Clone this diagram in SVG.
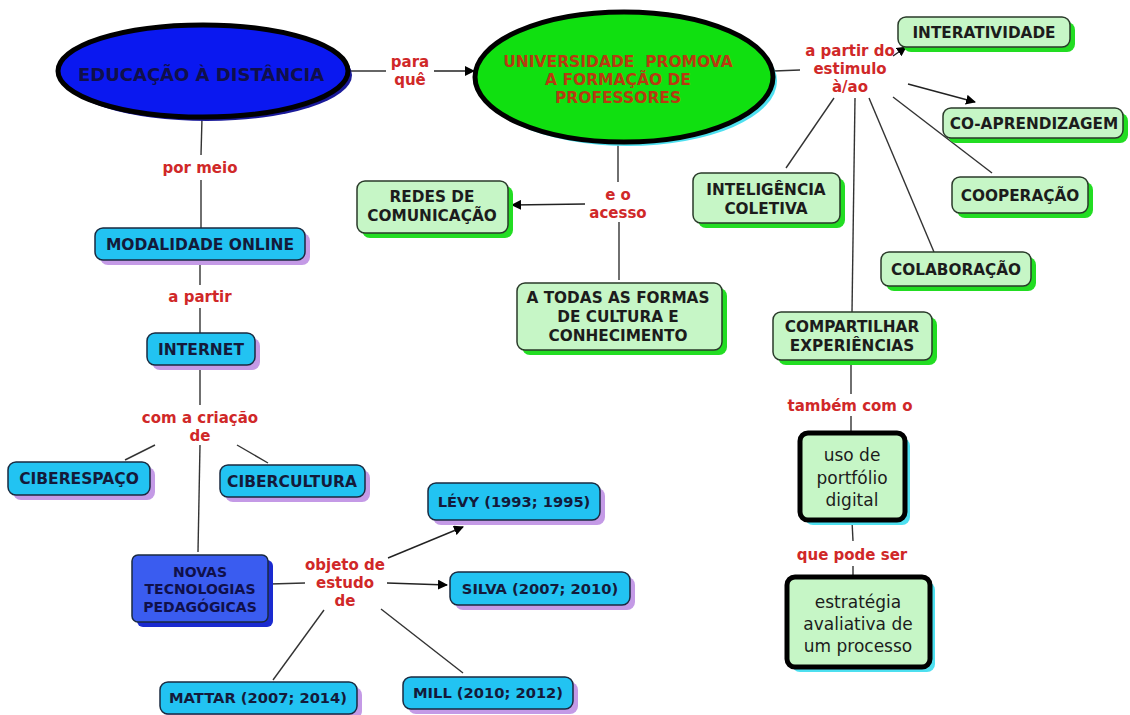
<svg xmlns="http://www.w3.org/2000/svg" width="1130" height="715" viewBox="0 0 1130 715">
  <style>
    text { font-family: "DejaVu Sans", Verdana, sans-serif; font-weight: bold; text-anchor: middle; }
    .lbl { fill: #d02828; font-size: 15px; }
    .bt { fill: #141a3a; font-size: 15.5px; }
    .ct { fill: #141a3a; font-size: 14.7px; }
    .gt { fill: #1c1c1c; font-size: 15.3px; }
    .nv { fill: #10104a; font-size: 14px; }
    .nt { fill: #1c1c1c; font-size: 17px; font-weight: normal; }
    .blue { fill: #22c3f2; stroke: #1a2a40; stroke-width: 1.5; }
    .bsh { fill: #c49ae6; }
    .green { fill: #c6f6c6; stroke: #2a3a2a; stroke-width: 1.5; }
    .gsh { fill: #22dd22; }
    .thick { fill: #c6f6c6; stroke: #000; stroke-width: 5; }
    .csh { fill: #4ee0f0; }
    .ln { stroke: #333; stroke-width: 1.4; fill: none; }
    .ar { stroke: #222; stroke-width: 1.4; fill: none; marker-end: url(#ah); }
    .ut { fill: #b83a10; font-size: 15.5px; white-space: pre; }
  </style>
  <defs>
    <marker id="ah" viewBox="0 0 10 10" refX="9" refY="5" markerWidth="10" markerHeight="10" markerUnits="userSpaceOnUse" orient="auto">
      <path d="M0,0 L10,5 L0,10 z" fill="#000"/>
    </marker>
  </defs>
  <rect width="1130" height="715" fill="#fff"/>

  <!-- connectors -->
  <g id="connectors">
    <line class="ln" x1="350" y1="71" x2="386" y2="71"/>
    <line class="ar" x1="434" y1="71" x2="474" y2="71"/>
    <line class="ln" x1="774" y1="71" x2="800" y2="70"/>
    <line class="ar" x1="893" y1="56" x2="906" y2="47"/>
    <line class="ar" x1="908" y1="84" x2="975" y2="102"/>
    <line class="ln" x1="893" y1="97" x2="992" y2="173"/>
    <line class="ln" x1="834" y1="98" x2="786" y2="168"/>
    <line class="ln" x1="855" y1="98" x2="852" y2="312"/>
    <line class="ln" x1="869" y1="98" x2="934" y2="252"/>
    <line class="ln" x1="851" y1="361" x2="851" y2="394"/>
    <line class="ln" x1="851" y1="416" x2="851" y2="433"/>
    <line class="ln" x1="852" y1="521" x2="853" y2="541"/>
    <line class="ln" x1="853" y1="566" x2="853" y2="578"/>
    <line class="ln" x1="618" y1="144" x2="618" y2="182"/>
    <line class="ar" x1="585" y1="204" x2="512" y2="205"/>
    <line class="ln" x1="619" y1="222" x2="619" y2="280"/>
    <line class="ln" x1="202" y1="118" x2="201" y2="155"/>
    <line class="ln" x1="201" y1="180" x2="201" y2="228"/>
    <line class="ln" x1="200" y1="262" x2="200" y2="285"/>
    <line class="ln" x1="200" y1="308" x2="200" y2="333"/>
    <line class="ln" x1="200" y1="366" x2="200" y2="405"/>
    <line class="ln" x1="155" y1="445" x2="125" y2="460"/>
    <line class="ln" x1="237" y1="445" x2="268" y2="463"/>
    <line class="ln" x1="200" y1="445" x2="198" y2="552"/>
    <line class="ln" x1="270" y1="584" x2="305" y2="583"/>
    <line class="ar" x1="388" y1="558" x2="463" y2="527"/>
    <line class="ar" x1="387" y1="583" x2="447" y2="585"/>
    <line class="ln" x1="324" y1="610" x2="273" y2="680"/>
    <line class="ln" x1="381" y1="609" x2="463" y2="673"/>
  </g>

  <!-- linking phrases -->
  <g id="labels">
    <text class="lbl" x="410" y="67">para</text>
    <text class="lbl" x="410" y="85">quê</text>
    <text class="lbl" x="850" y="56">a partir do</text>
    <text class="lbl" x="850" y="74">estimulo</text>
    <text class="lbl" x="850" y="92">à/ao</text>
    <text class="lbl" x="618" y="200">e o</text>
    <text class="lbl" x="618" y="218">acesso</text>
    <text class="lbl" x="200" y="173">por meio</text>
    <text class="lbl" x="200" y="302">a partir</text>
    <text class="lbl" x="200" y="423">com a criação</text>
    <text class="lbl" x="200" y="441">de</text>
    <text class="lbl" x="345" y="570">objeto de</text>
    <text class="lbl" x="345" y="588">estudo</text>
    <text class="lbl" x="345" y="606">de</text>
    <text class="lbl" x="850" y="411">também com o</text>
    <text class="lbl" x="852" y="560">que pode ser</text>
  </g>

  <!-- concepts -->
  <g id="ead">
    <ellipse cx="207" cy="75" rx="145" ry="46" fill="#1a1a9a"/>
    <ellipse cx="203" cy="71" rx="145" ry="46" fill="#0a18f0" stroke="#000" stroke-width="5"/>
    <text x="201" y="81" style="fill:#10104a;font-size:18px">EDUCAÇÃO À DISTÂNCIA</text>
  </g>
  <g id="universidade">
    <ellipse cx="628" cy="81" rx="149" ry="65" fill="#4ee0f0"/>
    <ellipse cx="624" cy="77" rx="149" ry="65" fill="#10e010" stroke="#000" stroke-width="5"/>
    <text class="ut" x="618" y="67">UNIVERSIDADE  PROMOVA</text>
    <text class="ut" x="618" y="85">A FORMAÇÃO DE</text>
    <text class="ut" x="618" y="103">PROFESSORES</text>
  </g>
  <g id="interatividade">
    <rect class="gsh" x="903" y="22" width="172" height="30" rx="8"/>
    <rect class="green" x="898" y="17" width="172" height="30" rx="8"/>
    <text class="gt" x="984" y="38">INTERATIVIDADE</text>
  </g>
  <g id="coaprendizagem">
    <rect class="gsh" x="948" y="113" width="180" height="30" rx="8"/>
    <rect class="green" x="943" y="108" width="180" height="30" rx="8"/>
    <text class="gt" x="1034" y="129">CO-APRENDIZAGEM</text>
  </g>
  <g id="cooperacao">
    <rect class="gsh" x="957" y="182" width="136" height="36" rx="8"/>
    <rect class="green" x="952" y="177" width="136" height="36" rx="8"/>
    <text class="gt" x="1020" y="201">COOPERAÇÃO</text>
  </g>
  <g id="inteligencia">
    <rect class="gsh" x="698" y="178" width="147" height="50" rx="8"/>
    <rect class="green" x="693" y="173" width="147" height="50" rx="8"/>
    <text class="gt" x="766" y="195">INTELIGÊNCIA</text>
    <text class="gt" x="766" y="214">COLETIVA</text>
  </g>
  <g id="colaboracao">
    <rect class="gsh" x="886" y="257" width="150" height="34" rx="8"/>
    <rect class="green" x="881" y="252" width="150" height="34" rx="8"/>
    <text class="gt" x="956" y="275">COLABORAÇÃO</text>
  </g>
  <g id="compartilhar">
    <rect class="gsh" x="778" y="317" width="159" height="48" rx="8"/>
    <rect class="green" x="773" y="312" width="159" height="48" rx="8"/>
    <text class="gt" x="852" y="332">COMPARTILHAR</text>
    <text class="gt" x="852" y="351">EXPERIÊNCIAS</text>
  </g>
  <g id="portfolio">
    <rect class="csh" x="805" y="438" width="105" height="87" rx="8"/>
    <rect class="thick" x="800" y="433" width="105" height="87" rx="8"/>
    <text class="nt" x="852" y="461">uso de</text>
    <text class="nt" x="852" y="484">portfólio</text>
    <text class="nt" x="852" y="506">digital</text>
  </g>
  <g id="estrategia">
    <rect class="csh" x="792" y="582" width="143" height="90" rx="8"/>
    <rect class="thick" x="787" y="577" width="143" height="90" rx="8"/>
    <text class="nt" x="858" y="608">estratégia</text>
    <text class="nt" x="858" y="630">avaliativa de</text>
    <text class="nt" x="858" y="652">um processo</text>
  </g>
  <g id="redes">
    <rect class="gsh" x="362" y="186" width="151" height="52" rx="8"/>
    <rect class="green" x="357" y="181" width="151" height="52" rx="8"/>
    <text class="gt" x="432" y="202">REDES DE</text>
    <text class="gt" x="432" y="221">COMUNICAÇÃO</text>
  </g>
  <g id="todas">
    <rect class="gsh" x="522" y="288" width="205" height="67" rx="8"/>
    <rect class="green" x="517" y="283" width="205" height="67" rx="8"/>
    <text class="gt" x="618" y="303">A TODAS AS FORMAS</text>
    <text class="gt" x="618" y="322">DE CULTURA E</text>
    <text class="gt" x="618" y="341">CONHECIMENTO</text>
  </g>
  <g id="modalidade">
    <rect class="bsh" x="100" y="233" width="210" height="32" rx="8"/>
    <rect class="blue" x="95" y="228" width="210" height="32" rx="8"/>
    <text class="bt" x="200" y="250">MODALIDADE ONLINE</text>
  </g>
  <g id="internet">
    <rect class="bsh" x="152" y="338" width="108" height="32" rx="8"/>
    <rect class="blue" x="147" y="333" width="108" height="32" rx="8"/>
    <text class="bt" x="201" y="355">INTERNET</text>
  </g>
  <g id="ciberespaco">
    <rect class="bsh" x="13" y="467" width="142" height="33" rx="8"/>
    <rect class="blue" x="8" y="462" width="142" height="33" rx="8"/>
    <text class="bt" x="79" y="484">CIBERESPAÇO</text>
  </g>
  <g id="cibercultura">
    <rect class="bsh" x="225" y="470" width="145" height="32" rx="8"/>
    <rect class="blue" x="220" y="465" width="145" height="32" rx="8"/>
    <text class="bt" x="292" y="487">CIBERCULTURA</text>
  </g>
  <g id="novas">
    <rect x="137" y="560" width="136" height="67" rx="6" fill="#1a2ad0"/>
    <rect x="132" y="555" width="136" height="67" rx="6" fill="#3a5cf0" stroke="#1a2a40" stroke-width="1.5"/>
    <text class="nv" x="200" y="577">NOVAS</text>
    <text class="nv" x="200" y="594">TECNOLOGIAS</text>
    <text class="nv" x="200" y="612">PEDAGÓGICAS</text>
  </g>
  <g id="levy">
    <rect class="bsh" x="433" y="488" width="172" height="37" rx="8"/>
    <rect class="blue" x="428" y="483" width="172" height="37" rx="8"/>
    <text class="ct" x="514" y="507">LÉVY (1993; 1995)</text>
  </g>
  <g id="silva">
    <rect class="bsh" x="455" y="577" width="180" height="33" rx="8"/>
    <rect class="blue" x="450" y="572" width="180" height="33" rx="8"/>
    <text class="ct" x="540" y="594">SILVA (2007; 2010)</text>
  </g>
  <g id="mattar">
    <rect class="bsh" x="165" y="687" width="197" height="32" rx="8"/>
    <rect class="blue" x="160" y="682" width="197" height="32" rx="8"/>
    <text class="ct" x="258" y="703">MATTAR (2007; 2014)</text>
  </g>
  <g id="mill">
    <rect class="bsh" x="408" y="682" width="170" height="32" rx="8"/>
    <rect class="blue" x="403" y="677" width="170" height="32" rx="8"/>
    <text class="ct" x="488" y="698">MILL (2010; 2012)</text>
  </g>
</svg>
